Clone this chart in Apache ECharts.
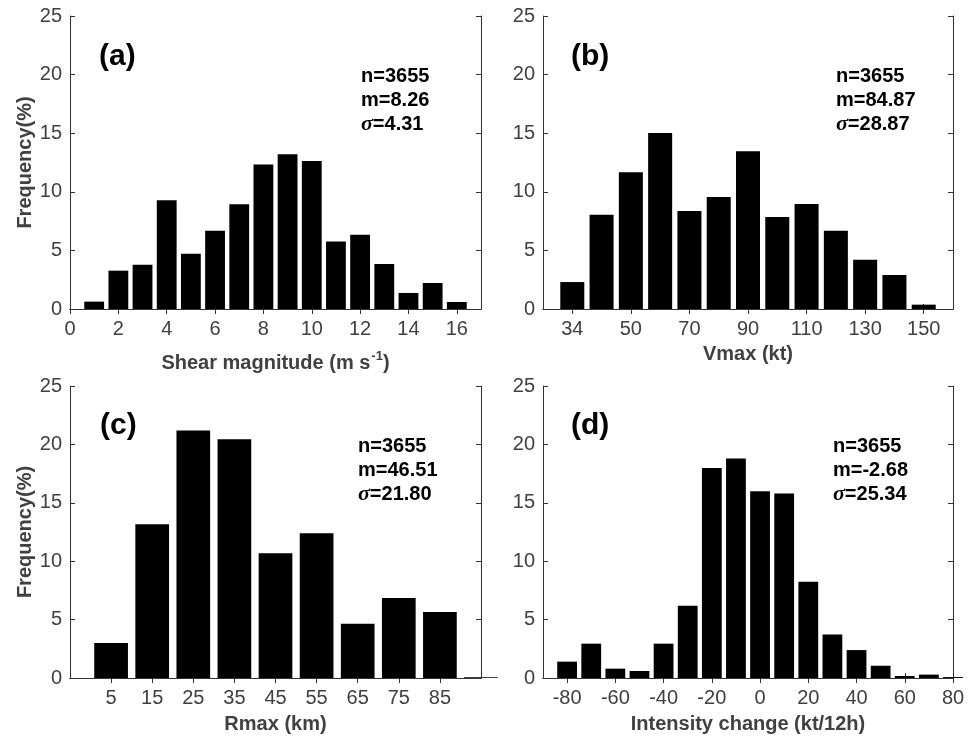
<!DOCTYPE html>
<html>
<head>
<meta charset="utf-8">
<script src="https://cdn.jsdelivr.net/npm/echarts@6/dist/echarts.min.js"></script>
<style>
html, body { margin: 0; padding: 0; background: #fff; }
#chart { width: 972px; height: 739px; }
</style>
</head>
<body>
<div id="chart"></div>
<script>
// (a) shear magnitude, 1 m/s bins centred on 1..16
const shearCats = ['0', '1', '2', '3', '4', '5', '6', '7', '8', '9', '10', '11', '12', '13', '14', '15', '16', '17']
const shearTicks = ['0', '2', '4', '6', '8', '10', '12', '14', '16']
const shearFreq = [0.63, 3.27, 3.78, 9.27, 4.72, 6.68, 8.93, 12.34, 13.20, 12.63, 5.77, 6.34, 3.84, 1.37, 2.22, 0.60]

// (b) Vmax, 10 kt bins
const vmaxCats = ['', '34', '40', '50', '60', '70', '80', '90', '100', '110', '120', '130', '140', '150', '']
const vmaxTicks = ['34', '50', '70', '90', '110', '130', '150']
const vmaxFreq = [2.30, 8.05, 11.66, 15.02, 8.36, 9.56, 13.45, 7.85, 8.96, 6.68, 4.21, 2.90, 0.37]

// (c) Rmax, 10 km bins (last one sits on the axis edge)
const rmaxCats = ['', '5', '15', '25', '35', '45', '55', '65', '75', '85', '95']
const rmaxTicks = ['5', '15', '25', '35', '45', '55', '65', '75', '85']
const rmaxFreq = [2.99, 13.17, 21.18, 20.44, 10.69, 12.40, 4.65, 6.84, 5.64, 0.06]

// (d) intensity change, 10 kt/12h bins
const dvCats = ['-90', '-80', '-70', '-60', '-50', '-40', '-30', '-20', '-10', '0', '10', '20', '30', '40', '50', '60', '70', '80']
const dvTicks = ['-80', '-60', '-40', '-20', '0', '20', '40', '60', '80']
const dvFreq = [1.40, 2.94, 0.80, 0.60, 2.94, 6.19, 17.99, 18.79, 15.99, 15.79, 8.24, 3.73, 2.39, 1.05, 0.17, 0.29, 0.08]

const yTicks = [0, 25, 5] // min, max, step

const panels = [
  { tag: '(a)', cats: shearCats, ticks: shearTicks, vals: shearFreq, stats: ['3655', '8.26', '4.31'],
    xname: '{t|Shear magnitude (m s}{sup|-1}{t|)}', ynameShow: true, nameGap: 41,
    grid: { left: 70, top: 16, width: 411, height: 293 }, tagPos: [99, 42], statPos: [361, 64] },
  { tag: '(b)', cats: vmaxCats, ticks: vmaxTicks, vals: vmaxFreq, stats: ['3655', '84.87', '28.87'],
    xname: '{t|Vmax (kt)}', ynameShow: false, nameGap: 35,
    grid: { left: 543, top: 16, width: 410, height: 293 }, tagPos: [571, 42], statPos: [836, 64] },
  { tag: '(c)', cats: rmaxCats, ticks: rmaxTicks, vals: rmaxFreq, stats: ['3655', '46.51', '21.80'],
    xname: '{t|Rmax (km)}', ynameShow: true, nameGap: 36,
    grid: { left: 70, top: 386, width: 411, height: 292 }, tagPos: [100, 411], statPos: [358, 434] },
  { tag: '(d)', cats: dvCats, ticks: dvTicks, vals: dvFreq, stats: ['3655', '-2.68', '25.34'],
    xname: '{t|Intensity change (kt/12h)}', ynameShow: false, nameGap: 36,
    grid: { left: 543, top: 386, width: 410, height: 292 }, tagPos: [571, 411], statPos: [833, 434] }
]

const FONT = 'Liberation Sans'
const AXIS_COLOR = '#333'
const LABEL_COLOR = '#404040'

const chart = echarts.init(document.getElementById('chart'))

const grid = []
const xAxis = []
const yAxis = []
const series = []
const title = []

panels.forEach((p, i) => {
  grid.push(p.grid)
  const tickFn = (idx, val) => p.ticks.includes(val)
  // bottom axis
  xAxis.push({
    type: 'category', gridIndex: i, data: p.cats, boundaryGap: false, position: 'bottom',
    axisLine: { lineStyle: { color: AXIS_COLOR } },
    axisTick: { inside: true, length: 5, interval: tickFn, lineStyle: { color: AXIS_COLOR } },
    axisLabel: { interval: tickFn, fontFamily: FONT, fontSize: 20, color: LABEL_COLOR, margin: 10 },
    name: p.xname, nameLocation: 'middle', nameGap: p.nameGap,
    nameTextStyle: {
      rich: {
        t: { fontFamily: FONT, fontSize: 20, fontWeight: 'bold', color: LABEL_COLOR },
        sup: { fontFamily: FONT, fontSize: 13, fontWeight: 'bold', color: LABEL_COLOR, padding: [0, 0, 13, 1] }
      }
    }
  })
  // top mirror axis
  xAxis.push({
    type: 'category', gridIndex: i, data: p.cats, boundaryGap: false, position: 'top',
    axisLine: { lineStyle: { color: AXIS_COLOR } },
    axisTick: { inside: true, length: 5, interval: tickFn, lineStyle: { color: AXIS_COLOR } },
    axisLabel: { show: false }
  })
  const yBase = {
    type: 'value', gridIndex: i, min: yTicks[0], max: yTicks[1], interval: yTicks[2],
    splitLine: { show: false },
    axisLine: { show: true, lineStyle: { color: AXIS_COLOR } },
    axisTick: { show: true, inside: true, length: 5, lineStyle: { color: AXIS_COLOR } }
  }
  yAxis.push(Object.assign({}, yBase, {
    position: 'left',
    axisLabel: { fontFamily: FONT, fontSize: 20, color: LABEL_COLOR, margin: 8 },
    name: p.ynameShow ? 'Frequency(%)' : '', nameLocation: 'middle', nameGap: 35,
    nameTextStyle: { fontFamily: FONT, fontSize: 20, fontWeight: 'bold', color: LABEL_COLOR }
  }))
  yAxis.push(Object.assign({}, yBase, { position: 'right', axisLabel: { show: false } }))

  series.push({
    type: 'bar', xAxisIndex: 2 * i, yAxisIndex: 2 * i,
    data: p.cats.map((c, k) => (k >= 1 && k - 1 < p.vals.length) ? p.vals[k - 1] : '-'),
    barWidth: '82%', itemStyle: { color: '#000' }, clip: true, silent: true
  })

  title.push({
    text: p.tag, left: p.tagPos[0], top: p.tagPos[1], padding: 0,
    textStyle: { fontFamily: FONT, fontSize: 30, fontWeight: 'bold', color: '#000' }
  })
  title.push({
    text: '{t|n=' + p.stats[0] + '}\n{t|m=' + p.stats[1] + '}\n{s|σ}{t|=' + p.stats[2] + '}',
    left: p.statPos[0], top: p.statPos[1], padding: 0,
    textStyle: {
      rich: {
        t: { fontFamily: FONT, fontSize: 20, fontWeight: 'bold', color: '#000', lineHeight: 24 },
        s: { fontFamily: 'Liberation Serif', fontStyle: 'italic', fontWeight: 'bold', fontSize: 22, color: '#000', lineHeight: 24 }
      }
    }
  })
})

chart.setOption({
  backgroundColor: '#fff',
  animation: false,
  title: title,
  grid: grid,
  xAxis: xAxis,
  yAxis: yAxis,
  series: series
})
</script>
</body>
</html>
